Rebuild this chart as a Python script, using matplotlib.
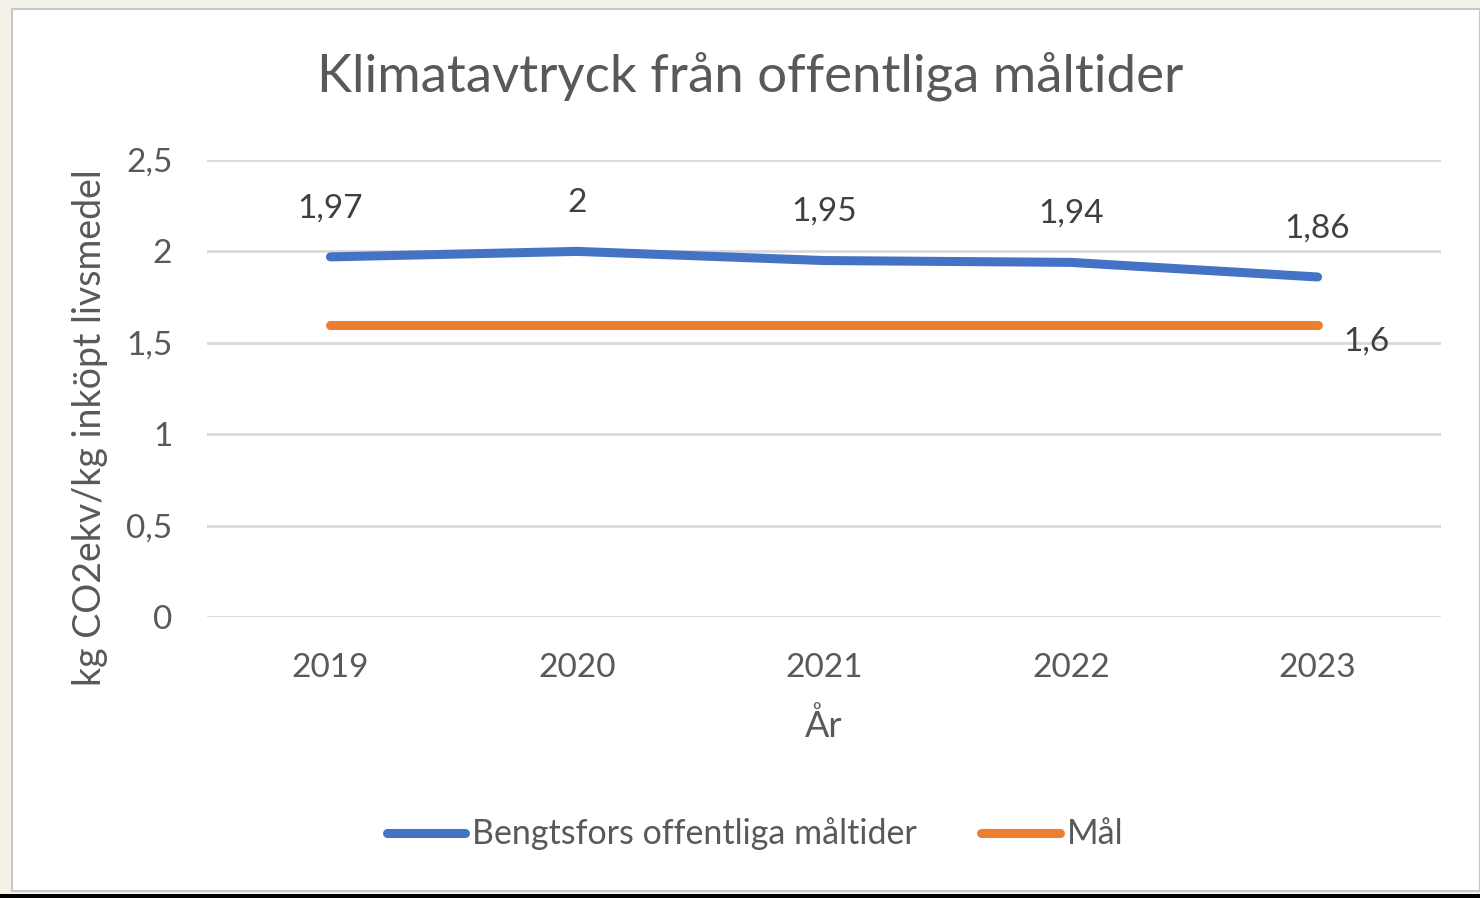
#!/usr/bin/env python3
"""Klimatavtryck från offentliga måltider, line chart (Excel style)."""

import matplotlib
matplotlib.use("Agg")
import matplotlib.pyplot as plt
from matplotlib.patches import Rectangle

YEARS = ["2019", "2020", "2021", "2022", "2023"]
BENGTSFORS = [1.97, 2.00, 1.95, 1.94, 1.86]
MAL = [1.6, 1.6, 1.6, 1.6, 1.6]
BENGTSFORS_LABELS = ["1,97", "2", "1,95", "1,94", "1,86"]
MAL_LABEL = "1,6"
Y_TICKS = [0, 0.5, 1, 1.5, 2, 2.5]
Y_TICK_LABELS = ["0", "0,5", "1", "1,5", "2", "2,5"]

COLOR_BLUE = "#4472C4"
COLOR_ORANGE = "#ED7D31"
TEXT = "#595959"
GRID = "#D9D9D9"

plt.rcParams["font.family"] = ["Lato", "DejaVu Sans"]

fig = plt.figure(figsize=(14.8, 8.98), dpi=100)
fig.patch.set_facecolor("#F4F2E8")

# white chart panel + screenshot edge
fig.patches.append(Rectangle((12 / 1480, 7 / 898), 1468 / 1480, 882 / 898,
                             transform=fig.transFigure, facecolor="white",
                             edgecolor="#C8C8C8", linewidth=1.5, zorder=-5))
fig.patches.append(Rectangle((0, 0), 1, 4 / 898, transform=fig.transFigure,
                             facecolor="black", edgecolor="none", zorder=-4))

ax = fig.add_axes([207 / 1480, 1 - 617 / 898, 1234 / 1480, 457 / 898])
ax.set_facecolor("none")
x = range(len(YEARS))

ax.plot(x, BENGTSFORS, color=COLOR_BLUE, linewidth=6.5, solid_capstyle="round",
        label="Bengtsfors offentliga måltider", zorder=3)
ax.plot(x, MAL, color=COLOR_ORANGE, linewidth=6.5, solid_capstyle="round",
        label="Mål", zorder=3)

for xi, yi, lab in zip(x, BENGTSFORS, BENGTSFORS_LABELS):
    ax.annotate(lab, (xi, yi), xytext=(0, 35), textcoords="offset points",
                ha="center", va="center", fontsize=24, color="#404040")
ax.annotate(MAL_LABEL, (x[-1], MAL[-1]), xytext=(35, -12), textcoords="offset points",
            ha="center", va="center", fontsize=24, color="#404040")

ax.set_xlim(-0.5, len(YEARS) - 0.5)
ax.set_ylim(0, 2.5)
ax.set_xticks(list(x))
ax.set_xticklabels(YEARS)
ax.set_yticks(Y_TICKS)
ax.set_yticklabels(Y_TICK_LABELS)
ax.tick_params(axis="both", length=0, labelsize=24, colors=TEXT)
ax.tick_params(axis="x", pad=26)
ax.tick_params(axis="y", pad=25)
ax.grid(axis="y", color=GRID, linewidth=2)
ax.set_axisbelow(True)
for s in ax.spines.values():
    s.set_visible(False)

ax.set_xlabel("År", fontsize=26, color=TEXT, labelpad=18)
fig.text(90 / 1480, 1 - 428 / 898, "kg CO2ekv/kg inköpt livsmedel", rotation=90,
         ha="center", va="center", fontsize=27, color=TEXT)
fig.text(750 / 1480, 1 - 76 / 898, "Klimatavtryck från offentliga måltider",
         ha="center", va="center", fontsize=38, color=TEXT)

leg = fig.legend(loc="center", bbox_to_anchor=(755 / 1480, 1 - 834 / 898), ncol=2,
                 frameon=False, fontsize=24.5, handlelength=2.3, handletextpad=0.2,
                 columnspacing=1.9)
for t in leg.get_texts():
    t.set_color(TEXT)

fig.savefig("out.png", dpi=100, facecolor=fig.get_facecolor())
